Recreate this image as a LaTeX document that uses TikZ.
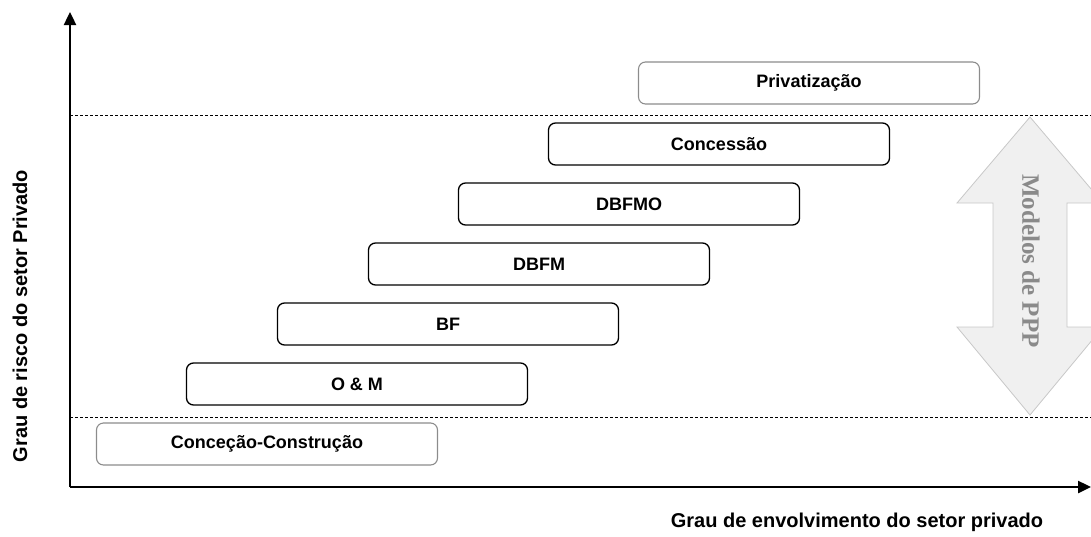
\documentclass[tikz,border=0pt]{standalone}
\usepackage{fontspec}
\setmainfont{Liberation Sans}
\newfontfamily\serifbold{Liberation Serif}
\usetikzlibrary{arrows.meta}
\definecolor{boxgray}{HTML}{8C8C8C}
\definecolor{arrowfill}{HTML}{F0F0F0}
\definecolor{arrowline}{HTML}{C8C8C8}
\definecolor{arrowtext}{HTML}{8A8A8A}
\begin{document}
\begin{tikzpicture}[x=1pt,y=-1pt,
  model/.style={draw=black,line width=1.3pt,rounded corners=7pt,
    minimum width=341pt,minimum height=42pt,inner sep=0pt,
    font=\fontsize{18}{21}\selectfont\bfseries},
  outer/.style={model,draw=boxgray,line width=1.1pt},
  axis/.style={line width=2.4pt,-{Triangle[length=13pt,width=12pt]}},
  limit/.style={dashed,line width=0.6pt,dash pattern=on 3pt off 2pt},
  axislabel/.style={font=\fontsize{20}{24}\selectfont\bfseries}]
\useasboundingbox (0,0) rectangle (1091,536);

% range of PPP models
\draw[fill=arrowfill,draw=arrowline,line width=0.8pt]
  (1030,117) -- (1103,203) -- (1067,203) -- (1067,327) -- (1103,327)
  -- (1030,415) -- (957,327) -- (993,327) -- (993,203) -- (957,203) -- cycle;
\node[rotate=-90,text=arrowtext,font=\serifbold\fontsize{25}{28}\selectfont\bfseries]
  (ppp) at (1031,261) {Modelos de PPP};

% boundaries of the PPP band
\coordinate (l1a) at (70,115);
\coordinate (l1b) at (1091,115);
\coordinate (l2a) at (70,417);
\coordinate (l2b) at (1091,417);
\draw[limit] (l1a) -- (l1b);
\draw[limit] (l2a) -- (l2b);

% axes
\coordinate (o) at (70,487);
\coordinate (ytop) at (70,12);
\coordinate (xend) at (1091,487);
\draw[axis] (o) -- (ytop);
\draw[axis] (o) -- (xend);

% contract models
\node[outer] (cc)   at (267,444) {Conceção-Construção};
\node[model] (om)   at (357,384) {O \& M};
\node[model] (bf)   at (448,324) {BF};
\node[model] (dbfm) at (539,264) {DBFM};
\node[model] (dbfmo) at (629,204) {DBFMO};
\node[model] (conc) at (719,144) {Concessão};
\node[outer] (priv) at (809,83) {Privatização};

% axis labels
\node[axislabel,rotate=90] (ylab) at (20,316) {Grau de risco do setor Privado};
\node[axislabel] (xlab) at (857,522) {Grau de envolvimento do setor privado};
\end{tikzpicture}
\end{document}
